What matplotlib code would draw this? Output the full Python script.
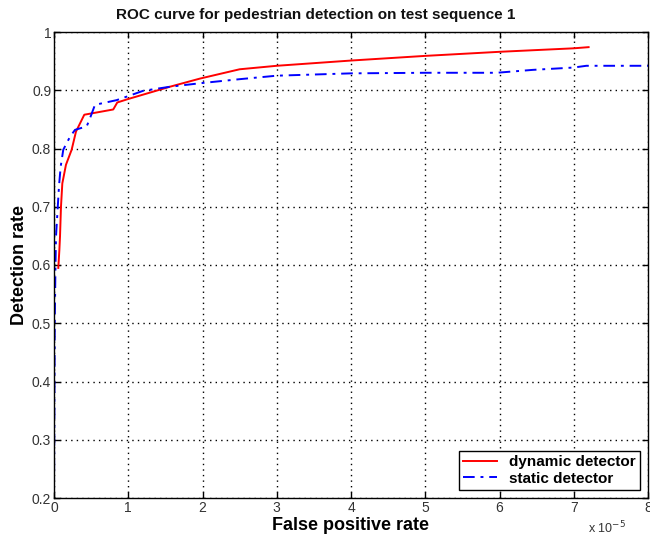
import matplotlib
matplotlib.use("Agg")
import matplotlib.pyplot as plt

plt.rcParams['font.family'] = ['Liberation Sans', 'DejaVu Sans']

# False positive rate values are in units of 1e-5
dyn_fpr = [0.058, 0.072, 0.081, 0.094, 0.112, 0.161, 0.238, 0.296, 0.408, 0.798, 0.852, 1.0, 1.56, 1.965, 2.50, 3.0, 4.0, 5.0, 6.0, 7.0, 7.2]
dyn_tpr = [0.595, 0.625, 0.649, 0.700, 0.740, 0.772, 0.798, 0.829, 0.858, 0.867, 0.879, 0.885, 0.906, 0.920, 0.936, 0.942, 0.951, 0.959, 0.966, 0.972, 0.974]

sta_fpr = [0.0, 0.01, 0.02, 0.027, 0.067, 0.09, 0.125, 0.215, 0.283, 0.44, 0.476, 0.552, 0.843, 0.978, 1.2, 1.56, 1.965, 2.5, 3.0, 4.0, 5.0, 5.96, 6.45, 7.0, 7.17, 8.0]
sta_tpr = [0.2, 0.5, 0.6, 0.649, 0.735, 0.769, 0.798, 0.820, 0.832, 0.838, 0.849, 0.875, 0.883, 0.889, 0.899, 0.906, 0.912, 0.919, 0.925, 0.929, 0.930, 0.930, 0.935, 0.939, 0.942, 0.942]

x_ticks = [0, 1, 2, 3, 4, 5, 6, 7, 8]
x_ticklabels = ['0', '1', '2', '3', '4', '5', '6', '7', '8']
y_ticks = [0.2, 0.3, 0.4, 0.5, 0.6, 0.7, 0.8, 0.9, 1.0]
y_ticklabels = ['0.2', '0.3', '0.4', '0.5', '0.6', '0.7', '0.8', '0.9', '1']

W, H = 650, 543
fig = plt.figure(figsize=(6.5, 5.43), dpi=100)
ax = fig.add_axes([54 / W, 1 - 498 / H, (648 - 54) / W, (498 - 32) / H])

ax.plot(dyn_fpr, dyn_tpr, color='#ff0000', lw=1.4, label='dynamic detector')
ax.plot(sta_fpr, sta_tpr, color='#0000ff', lw=1.4, ls=(0, (6, 3, 1.5, 3)), label='static detector')

ax.set_xlim(0, 8)
ax.set_ylim(0.2, 1.0)
ax.set_xticks(x_ticks)
ax.set_xticklabels(x_ticklabels)
ax.set_yticks(y_ticks)
ax.set_yticklabels(y_ticklabels)

ax.tick_params(direction='in', top=True, right=True, labelsize=10, length=4, width=1,
               color='black', labelcolor='#333333', pad=2)
for s in ax.spines.values():
    s.set_linewidth(1.0)
ax.grid(True, ls=(0, (1, 3)), color='black', lw=1.0)

fig.text(316 / W, 1 - 15 / H, 'ROC curve for pedestrian detection on test sequence 1',
         fontsize=11, fontweight='bold', ha='center', va='center', color='#111111')
fig.text(351 / W, 1 - 525 / H, 'False positive rate', fontsize=13, fontweight='bold',
         ha='center', va='center')
fig.text(20 / W, 1 - 265 / H, 'Detection rate', fontsize=13, fontweight='bold',
         ha='center', va='center', rotation=90)
fig.text(626 / W, 1 - 528 / H, 'x 10$^{-5}$', fontsize=9, ha='right', va='center',
         color='#333333')

leg = ax.legend(loc='lower right', fontsize=11, fancybox=False, edgecolor='black',
                framealpha=1, borderpad=0.3, handlelength=2.2, labelspacing=0.15,
                borderaxespad=0.5)
leg.get_frame().set_linewidth(1.0)
for t in leg.get_texts():
    t.set_fontweight('bold')

fig.savefig('out.png', dpi=100)
